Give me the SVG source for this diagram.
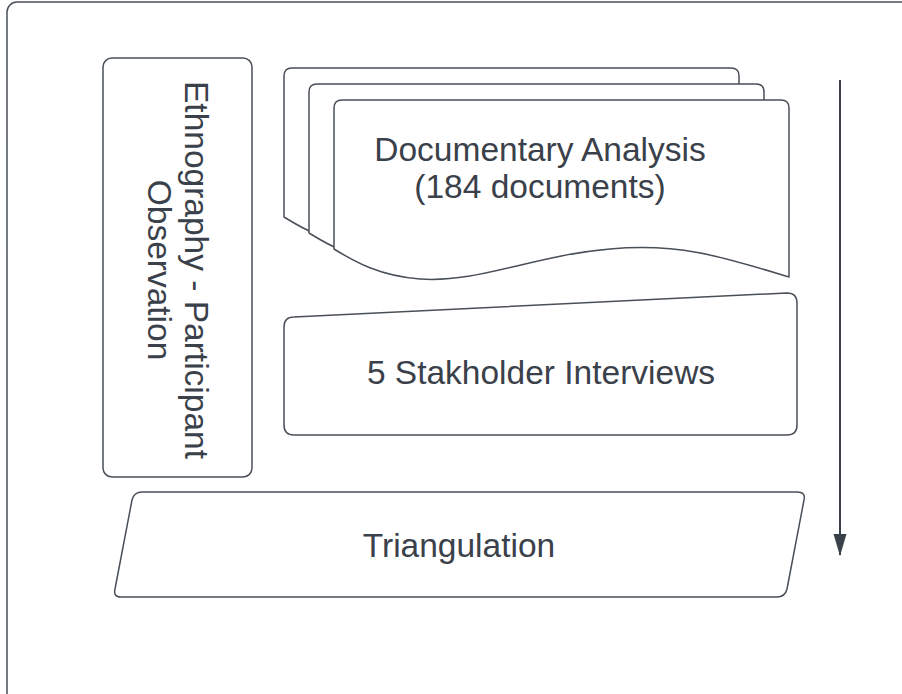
<svg xmlns="http://www.w3.org/2000/svg" width="902" height="694" viewBox="0 0 902 694">
  <style>
    .shape { fill: #ffffff; stroke: #4a5058; stroke-width: 1.5; stroke-linejoin: round; }
    .label { font-family: "Liberation Sans", Arial, sans-serif; font-size: 33.5px; fill: #3a414a; text-anchor: middle; }
    .conn { stroke: #3a414a; stroke-width: 2; fill: none; }
  </style>
  <defs>
    <marker id="arrowhead" markerWidth="22" markerHeight="14" refX="21" refY="7" orient="auto" markerUnits="userSpaceOnUse" viewBox="0 0 22 14">
      <path d="M0,0.5 L22,7 L0,13.5 Z" fill="#3a414a"/>
    </marker>
    <!-- one document sheet with a wavy bottom edge -->
    <path id="docSheet" d="M334,249 V108 Q334,100 342,100 H781 Q789,100 789,108 V277 C720,256 680,243 610,249 C530,256 480,283 420,279 C380,276 355,262 334,249 Z"/>
  </defs>

  <rect id="frame" class="shape" x="7" y="2" width="920" height="720" rx="10" ry="10"/>

  <g id="ethnography">
    <rect class="shape" x="103" y="58" width="149" height="419" rx="9" ry="9"/>
    <g transform="rotate(90)">
      <text class="label" x="270" y="-185">Ethnography - Participant</text>
      <text class="label" x="270" y="-148">Observation</text>
    </g>
  </g>

  <g id="documentary-analysis">
    <use href="#docSheet" class="shape" transform="translate(-50,-32)"/>
    <use href="#docSheet" class="shape" transform="translate(-25,-16)"/>
    <use href="#docSheet" class="shape"/>
    <text class="label" x="540" y="161">Documentary Analysis</text>
    <text class="label" x="540" y="198">(184 documents)</text>
  </g>

  <g id="interviews">
    <path class="shape" d="M284,327 Q284,317 294,317 L787,293 Q797,293 797,303 V425 Q797,435 787,435 H294 Q284,435 284,425 Z"/>
    <text class="label" x="541" y="384">5 Stakholder Interviews</text>
  </g>

  <g id="triangulation">
    <path class="shape" d="M132,500 Q134,492 142,492 H797 Q806,492 804,500 L787,589 Q785,597 777,597 H121 Q113,597 115,589 Z"/>
    <text class="label" x="459" y="557">Triangulation</text>
  </g>

  <g id="connectors">
    <line class="conn" x1="840" y1="80" x2="840" y2="555" marker-end="url(#arrowhead)"/>
  </g>
</svg>
